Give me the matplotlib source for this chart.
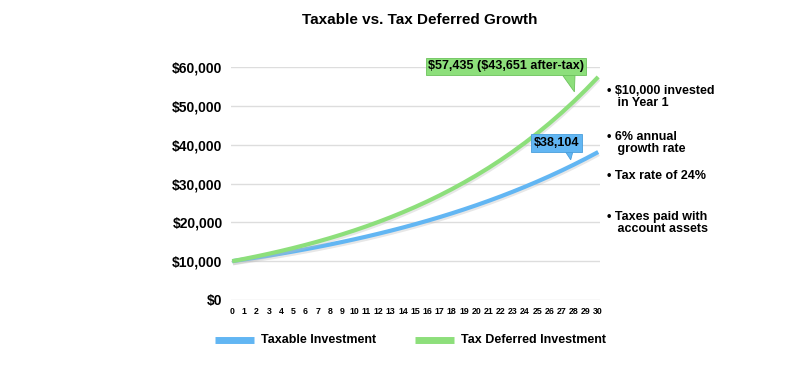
import matplotlib
matplotlib.use("Agg")
import matplotlib.pyplot as plt
import matplotlib.patheffects as pe
from matplotlib.patches import Polygon

plt.rcParams['font.family'] = ['Liberation Sans', 'DejaVu Sans']
plt.rcParams['font.weight'] = 'bold'

years = list(range(0, 31))
taxable = [10000, 10456, 10933, 11431, 11953, 12498, 13068, 13663, 14286, 14938,
           15619, 16331, 17076, 17855, 18669, 19520, 20410, 21341, 22314, 23332,
           24396, 25508, 26671, 27887, 29159, 30489, 31879, 33333, 34853, 36442,
           38104]
deferred = [10000, 10600, 11236, 11910, 12625, 13382, 14185, 15036, 15938, 16895,
            17908, 18983, 20122, 21329, 22609, 23966, 25404, 26928, 28543, 30256,
            32071, 33996, 36035, 38197, 40489, 42919, 45494, 48223, 51117, 54184,
            57435]
yticks = [0, 10000, 20000, 30000, 40000, 50000, 60000]
ytick_labels = ['$0', '$10,000', '$20,000', '$30,000', '$40,000', '$50,000', '$60,000']
series_names = ['Taxable Investment', 'Tax Deferred Investment']
callout_green = r'\$57,435 (\$43,651 after-tax)'
callout_blue = r'\$38,104'
bullets = ['\u2022 $10,000 invested\n   in Year 1',
           '\u2022 6% annual\n   growth rate',
           '\u2022 Tax rate of 24%',
           '\u2022 Taxes paid with\n   account assets']
title = 'Taxable vs. Tax Deferred Growth'

BLUE = '#62b6f3'
GREEN = '#8ddf7b'
BLUE_EDGE = '#4a9fdc'
GREEN_EDGE = '#6cc25c'

fig = plt.figure(figsize=(8.09, 3.77), dpi=100)
ax = fig.add_axes([231/809, 77/377, 369/809, 233/377])

shadow = [pe.SimpleLineShadow(offset=(0.5, -1.5), shadow_color='#bbbbbb', alpha=0.35), pe.Normal()]
ax.plot(years, taxable, color=BLUE, lw=3.0, solid_capstyle='butt', path_effects=shadow, zorder=3)
ax.plot(years, deferred, color=GREEN, lw=3.0, solid_capstyle='butt', path_effects=shadow, zorder=3)

ax.set_xlim(-0.1, 30.15)
ax.set_ylim(0, 60000)
ax.set_yticks(yticks)
ax.set_yticklabels(ytick_labels, fontsize=10, fontweight='bold')
ax.set_xticks(years)
ax.set_xticklabels([str(y) for y in years], fontsize=6.3, fontweight='bold')
ax.tick_params(length=0, pad=6)
ax.tick_params(axis='x', pad=5)
ax.grid(axis='y', color='#dddddd', lw=1)
ax.set_axisbelow(True)
for s in ax.spines.values():
    s.set_visible(False)

fig.text(420/809, 1 - 20/377, title, ha='center', va='center', fontsize=11, fontweight='bold')


def callout(text, center, box_bottom, base_x0, base_x1, tip, fc, ec, pad):
    ax.text(center[0], center[1], text, ha='center', va='center', fontsize=9, fontweight='bold',
            clip_on=False, zorder=6,
            bbox=dict(boxstyle='square,pad=%s' % pad, fc=fc, ec=ec, lw=0.6))
    tail = Polygon([(base_x0, box_bottom), (base_x1, box_bottom), tip], closed=True,
                   fc=fc, ec=ec, lw=0.6, clip_on=False, zorder=5)
    ax.add_patch(tail)


callout(callout_green, (22.45, 60150), 57800, 27.1, 28.1, (28.05, 53600), GREEN, GREEN_EDGE, 0.18)
callout(callout_blue, (26.6, 40450), 38500, 27.25, 27.95, (27.75, 36100), BLUE, BLUE_EDGE, 0.22)

# bullets
bullet_y = [97, 143, 176, 223]
for txt, yy in zip(bullets, bullet_y):
    fig.text(607/809, 1 - yy/377, txt, ha='left', va='center', fontsize=9, fontweight='bold',
             linespacing=1.1)

# legend
legend_items = [(series_names[0], BLUE, 215), (series_names[1], GREEN, 415)]
for name, col, x0 in legend_items:
    fig.add_artist(plt.Line2D([x0/809, (x0+39)/809], [1-340/377, 1-340/377], color=col, lw=5,
                              solid_capstyle='butt', transform=fig.transFigure))
    fig.text((x0+46)/809, 1-340/377, name, ha='left', va='center', fontsize=9, fontweight='bold')

fig.savefig('out.png', dpi=100)
